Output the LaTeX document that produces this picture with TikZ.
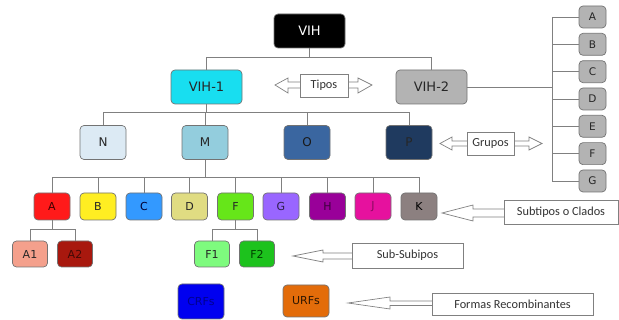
\documentclass[tikz,border=0pt]{standalone}
\usepackage{fontspec}
\setmainfont{DejaVu Sans}
\newfontfamily\labfont{Carlito}
\definecolor{cVone}{HTML}{18DEF0}
\definecolor{cVtwo}{HTML}{B3B3B3}
\definecolor{cN}{HTML}{DCEAF4}
\definecolor{cM}{HTML}{93CDDD}
\definecolor{cO}{HTML}{3A66A0}
\definecolor{cP}{HTML}{1F3A5F}
\definecolor{cA}{HTML}{FF1A1A}
\definecolor{cB}{HTML}{FFEE22}
\definecolor{cC}{HTML}{3399FF}
\definecolor{cD}{HTML}{E0DC82}
\definecolor{cF}{HTML}{66E619}
\definecolor{cG}{HTML}{9966FF}
\definecolor{cH}{HTML}{990099}
\definecolor{cJ}{HTML}{E6119E}
\definecolor{cK}{HTML}{8C8080}
\definecolor{cAone}{HTML}{F4A08C}
\definecolor{cAtwo}{HTML}{A8180E}
\definecolor{cFone}{HTML}{7EFB7E}
\definecolor{cFtwo}{HTML}{1DC21D}
\definecolor{cCRF}{HTML}{0000F0}
\definecolor{cURF}{HTML}{E36C0A}
\begin{document}
\begin{tikzpicture}[x=1pt,y=-1pt,
  box/.style={draw=black!55, rounded corners=4pt, line width=0.7pt, inner sep=0pt, text=black!85},
  big/.style={box, minimum width=71pt, minimum height=34pt, font=\fontsize{13}{13}\selectfont},
  grp/.style={box, minimum width=46pt, minimum height=34pt, font=\fontsize{12}{12}\selectfont},
  sub/.style={box, minimum width=36pt, minimum height=27pt, font=\fontsize{11}{11}\selectfont},
  ssub/.style={box, minimum width=35pt, minimum height=26pt, font=\fontsize{11}{11}\selectfont},
  side/.style={box, minimum width=27pt, minimum height=22pt, font=\fontsize{10.5}{10.5}\selectfont},
  conn/.style={draw=black!50, line width=0.8pt},
  blk/.style={draw=black!50, line width=0.7pt, fill=white},
  lab/.style={draw=black!50, line width=0.7pt, fill=white, inner sep=0pt, text=black!80, font=\labfont\fontsize{12.3}{12.3}\selectfont}
]
\useasboundingbox (0,0) rectangle (619,320);

% top levels
\node[big, fill=black, text=white] (vih) at (309.5,31) {VIH};
\node[big, fill=cVone] (vih1) at (206.5,87) {VIH-1};
\node[big, fill=cVtwo] (vih2) at (431.5,87) {VIH-2};
\draw[conn] (vih.south) -- ++(0,9) coordinate (b0);
\draw[conn] (vih1.north) |- (b0) -| (vih2.north);

% groups
\node[grp, fill=cN] (gN) at (103,142.5) {N};
\node[grp, fill=cM] (gM) at (205,142.5) {M};
\node[grp, fill=cO, text=black!90] (gO) at (307,142.5) {O};
\node[grp, fill=cP, text=black!85] (gP) at (409,142.5) {P};
\draw[conn] (vih1.south) -- ++(0,8) coordinate (b1);
\draw[conn] (gN.north) |- (b1) -| (gP.north);
\draw[conn] (gM.north) -- (gM.north |- b1);
\draw[conn] (gO.north) -- (gO.north |- b1);

% subtypes
\node[sub, fill=cA, text=black!75!red] (sA) at (52,206.5) {A};
\node[sub, fill=cB] (sB) at (98,206.5) {B};
\node[sub, fill=cC, text=black!80!blue] (sC) at (144,206.5) {C};
\node[sub, fill=cD] (sD) at (189.5,206.5) {D};
\node[sub, fill=cF] (sF) at (235.5,206.5) {F};
\node[sub, fill=cG, text=black!70!cG] (sG) at (281,206.5) {G};
\node[sub, fill=cH, text=black!60!cH] (sH) at (327.5,206.5) {H};
\node[sub, fill=cJ, text=black!40!cJ] (sJ) at (373,206.5) {J};
\node[sub, fill=cK, text=black] (sK) at (419,206.5) {K};
\draw[conn] (gM.south) -- ++(0,18) coordinate (b2);
\draw[conn] (sA.north) |- (b2) -| (sK.north);
\foreach \s in {sB,sC,sD,sF,sG,sH,sJ}
  \draw[conn] (\s.north) -- (\s.north |- b2);

% sub-subtypes
\node[ssub, fill=cAone] (sAone) at (30,254) {A1};
\node[ssub, fill=cAtwo, text=black!60!cAtwo] (sAtwo) at (75,254) {A2};
\node[ssub, fill=cFone] (sFone) at (212,254) {F1};
\node[ssub, fill=cFtwo, text=black!75!green] (sFtwo) at (257,254) {F2};
\draw[conn] (sA.south) -- ++(0,9) coordinate (b3);
\draw[conn] (sAone.north) |- (b3) -| (sAtwo.north);
\draw[conn] (sF.south) -- ++(0,9) coordinate (b4);
\draw[conn] (sFone.north) |- (b4) -| (sFtwo.north);

% recombinant forms
\node[box, fill=cCRF, text=black!40!cCRF, minimum width=46pt, minimum height=35pt, font=\fontsize{11}{11}\selectfont] (crf) at (201,301.5) {CRFs};
\node[box, fill=cURF, text=black!80!cURF, minimum width=46pt, minimum height=32pt, font=\fontsize{11}{11}\selectfont] (urf) at (306,301) {URFs};

% VIH-2 groups column
\foreach \l [count=\i from 0] in {A,B,C,D,E,F,G}
  \node[side, fill=cVtwo] (r\l) at (592.5,{17+27.33*\i}) {\l};
\coordinate (spine) at (552,87);
\draw[conn] (vih2.east) -- (spine);
\draw[conn] (rA.west -| spine) -- (rG.west -| spine);
\foreach \l in {A,B,C,D,E,F,G}
  \draw[conn] (r\l.west -| spine) -- (r\l.west);

% Tipos double arrow
\draw[blk] (300,82) -- (288,82) -- (288,78) -- (275,85) -- (288,93) -- (288,88) -- (300,88);
\draw[blk] (348,82) -- (358,82) -- (358,78) -- (372,85) -- (358,93) -- (358,88) -- (348,88);
\node[lab, minimum width=48pt, minimum height=23pt] (tipos) at (324,85.5) {Tipos};

% Grupos double arrow
\draw[blk] (467,141) -- (452,141) -- (452,137) -- (440,143.5) -- (452,150) -- (452,146) -- (467,146);
\draw[blk] (514,141) -- (529,141) -- (529,137) -- (542,143.5) -- (529,150) -- (529,146) -- (514,146);
\node[lab, minimum width=47pt, minimum height=23pt] (grupos) at (490.5,143.5) {Grupos};

% Subtipos o Clados
\draw[blk] (504,209) -- (473,209) -- (473,205) -- (442,213) -- (473,221) -- (473,217) -- (504,217);
\node[lab, minimum width=114pt, minimum height=24pt] (subt) at (561,212) {Subtipos o Clados};

% Sub-Subipos
\draw[blk] (352,253) -- (323,253) -- (323,250) -- (293,256) -- (323,262) -- (323,259) -- (352,259);
\node[lab, minimum width=111pt, minimum height=25pt] (ssubt) at (407.5,255.5) {Sub-Subipos};

% Formas Recombinantes
\draw[blk] (432,301) -- (390,301) -- (390,297) -- (348,303) -- (390,309) -- (390,305.5) -- (432,305.5);
\node[lab, minimum width=161pt, minimum height=22pt] (formas) at (512.5,304) {Formas Recombinantes};
\end{tikzpicture}
\end{document}
